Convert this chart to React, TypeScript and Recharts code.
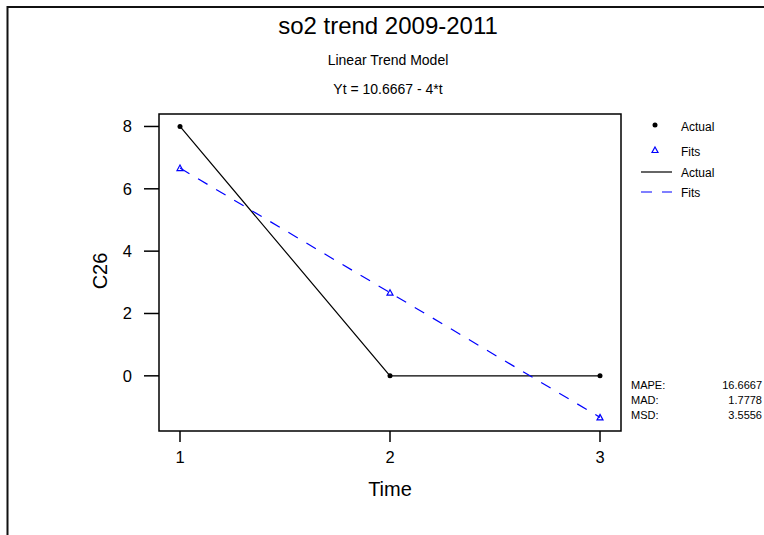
import React from 'react';
import {
  LineChart,
  Line,
  XAxis,
  YAxis,
  ReferenceArea,
  Customized,
} from 'recharts';

const times = [1, 2, 3];
const actualValues = [8, 0, 0];
const fitValues = [6.6667, 2.6667, -1.3333];
const xTicks = [1, 2, 3];
const yTicks = [0, 2, 4, 6, 8];
const legendLabels = ['Actual', 'Fits', 'Actual', 'Fits'];
const accuracyLabels = ['MAPE:', 'MAD:', 'MSD:'];
const accuracyValues = ['16.6667', '1.7778', '3.5556'];

const data = times.map((t, i) => ({
  t,
  actual: actualValues[i],
  fits: fitValues[i],
}));

const FONT = '"Liberation Sans", Arial, Helvetica, sans-serif';
const BLUE = '#0000ff';
const X_DOMAIN = [0.9, 3.1];
const Y_DOMAIN = [-1.77, 8.4];

function triangle(cx: number, cy: number) {
  return `M${cx},${cy - 3} L${cx + 3},${cy + 2.5} L${cx - 3},${cy + 2.5} Z`;
}

function ActualDot(props: any) {
  const { cx, cy } = props;
  if (cx == null || cy == null) return null;
  return <circle cx={cx} cy={cy} r={2.5} fill="#000" />;
}

function FitDot(props: any) {
  const { cx, cy } = props;
  if (cx == null || cy == null) return null;
  return <path d={triangle(cx, cy)} fill="none" stroke={BLUE} strokeWidth={1.2} />;
}

function Annotations() {
  const legendY = [127, 152, 173, 193];
  return (
    <g fontFamily={FONT} fill="#000">
      <path d="M7.5,540 V7 H770" fill="none" stroke="#111" strokeWidth={2} />
      <text x={388} y={34} fontSize={24} textAnchor="middle">
        so2 trend 2009-2011
      </text>
      <text x={388} y={65} fontSize={14} textAnchor="middle">
        Linear Trend Model
      </text>
      <text x={388} y={94} fontSize={14} textAnchor="middle">
        Yt = 10.6667 - 4*t
      </text>
      <text x={390} y={496} fontSize={20} textAnchor="middle">
        Time
      </text>
      <text
        x={107}
        y={271}
        fontSize={20}
        textAnchor="middle"
        transform="rotate(-90 107 271)"
      >
        C26
      </text>

      {/* legend */}
      <circle cx={655} cy={legendY[0] - 2} r={2.5} fill="#000" />
      <path d={triangle(655, legendY[1] - 2)} fill="none" stroke={BLUE} strokeWidth={1.2} />
      <line x1={641} y1={legendY[2] - 1} x2={672} y2={legendY[2] - 1} stroke="#000" strokeWidth={1.2} />
      <line
        x1={641}
        y1={legendY[3] - 1}
        x2={672}
        y2={legendY[3] - 1}
        stroke={BLUE}
        strokeWidth={1.2}
        strokeDasharray="11 10"
      />
      {legendLabels.map((label, i) => (
        <text key={i} x={681} y={legendY[i] + 4} fontSize={12}>
          {label}
        </text>
      ))}

      {accuracyLabels.map((label, i) => (
        <g key={label} fontSize={11}>
          <text x={631} y={389 + i * 15}>
            {label}
          </text>
          <text x={762} y={389 + i * 15} textAnchor="end">
            {accuracyValues[i]}
          </text>
        </g>
      ))}
    </g>
  );
}

export default function App() {
  return (
    <div style={{ position: 'absolute', left: 0, top: 0, background: '#fff' }}>
      <LineChart
        width={764}
        height={535}
        data={data}
        margin={{ top: 114, right: 143, bottom: 0, left: 0 }}
      >
        <XAxis
          dataKey="t"
          type="number"
          domain={X_DOMAIN}
          ticks={xTicks}
          tickSize={11}
          tickMargin={9}
          axisLine={false}
          tickLine={{ stroke: '#000', strokeWidth: 1.5 }}
          tick={{ fill: '#000', fontSize: 16.5, fontFamily: FONT }}
          height={104}
        />
        <YAxis
          type="number"
          domain={Y_DOMAIN}
          ticks={yTicks}
          width={159}
          tickSize={15}
          tickMargin={12}
          axisLine={false}
          tickLine={{ stroke: '#000', strokeWidth: 1.5 }}
          tick={{ fill: '#000', fontSize: 16.5, fontFamily: FONT }}
        />
        <ReferenceArea
          x1={X_DOMAIN[0]}
          x2={X_DOMAIN[1]}
          y1={Y_DOMAIN[0]}
          y2={Y_DOMAIN[1]}
          fill="none"
          fillOpacity={0}
          stroke="#000"
          strokeWidth={1.5}
        />
        <Line
          dataKey="actual"
          type="linear"
          stroke="#000"
          strokeWidth={1.2}
          dot={<ActualDot />}
          activeDot={false}
          isAnimationActive={false}
        />
        <Line
          dataKey="fits"
          type="linear"
          stroke={BLUE}
          strokeWidth={1.2}
          strokeDasharray="11 10"
          dot={<FitDot />}
          activeDot={false}
          isAnimationActive={false}
        />
        <Customized component={Annotations} />
      </LineChart>
    </div>
  );
}
